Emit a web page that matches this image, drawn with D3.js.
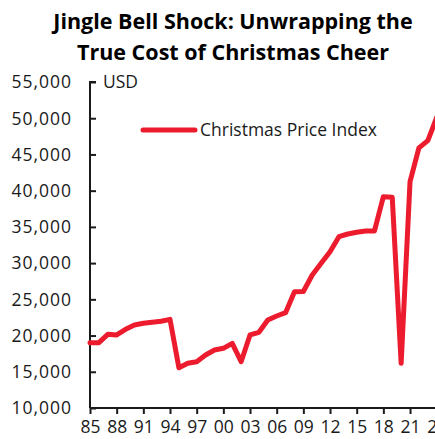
<!DOCTYPE html>
<html>
<head>
<meta charset="utf-8">
<script src="https://cdn.jsdelivr.net/npm/d3@7"></script>
<style>
  html, body { margin: 0; padding: 0; background: #fff; overflow: hidden; }
  svg { display: block; }
  text { font-family: "Open Sans", "Noto Sans", sans-serif; }
</style>
</head>
<body>
<div id="chart"></div>
<script>
// Christmas Price Index, USD, by year
const years = [1985, 1986, 1987, 1988, 1989, 1990, 1991, 1992, 1993, 1994,
               1995, 1996, 1997, 1998, 1999, 2000, 2001, 2002, 2003, 2004,
               2005, 2006, 2007, 2008, 2009, 2010, 2011, 2012, 2013, 2014,
               2015, 2016, 2017, 2018, 2019, 2020, 2021, 2022, 2023, 2024];
const priceIndex = [19020, 19020, 20170, 20080, 20860, 21460, 21690, 21830, 21980, 22240,
                    15550, 16170, 16390, 17320, 18010, 18240, 18930, 16390, 20080, 20450,
                    22150, 22700, 23160, 26050, 26080, 28360, 29970, 31580, 33650, 34020,
                    34250, 34430, 34440, 39170, 39090, 16170, 41240, 45900, 46900, 50100];
const yTicks = [10000, 15000, 20000, 25000, 30000, 35000, 40000, 45000, 50000, 55000];
const xTicks = [1985, 1988, 1991, 1994, 1997, 2000, 2003, 2006, 2009, 2012, 2015, 2018, 2021, 2024];
const titleLines = ["Jingle Bell Shock: Unwrapping the", "True Cost of Christmas Cheer"];
const seriesName = "Christmas Price Index";
const unitLabel = "USD";

const W = 435, H = 439;
const lineColor = "#ec1c2e";
const inkColor = "#1a1a1a";

const svg = d3.select("#chart").append("svg")
  .attr("width", W).attr("height", H);

const x = d3.scaleLinear().domain([1985, 2024]).range([90, 436.7]);
const y = d3.scaleLinear().domain([10000, 55000]).range([408, 82]);

// Title
svg.append("g").selectAll("text")
  .data(titleLines)
  .join("text")
  .attr("x", 233)
  .attr("y", (d, i) => 29 + i * 31)
  .attr("text-anchor", "middle")
  .attr("font-size", 21.5)
  .attr("font-weight", 700)
  .attr("fill", "#000")
  .text(d => d);

// Y axis with inward ticks
const yAxis = svg.append("g")
  .attr("transform", `translate(${x.range()[0]},0)`)
  .call(d3.axisRight(y).tickValues(yTicks).tickSize(6).tickFormat(""));
yAxis.select(".domain").attr("stroke", inkColor).attr("stroke-width", 2)
  .attr("d", `M6,${y(55000)}H0V${y(10000)}`);
yAxis.selectAll(".tick line").attr("stroke", inkColor).attr("stroke-width", 2);

svg.append("g").selectAll("text")
  .data(yTicks)
  .join("text")
  .attr("x", 72)
  .attr("y", d => y(d))
  .attr("dy", "0.36em")
  .attr("text-anchor", "end")
  .attr("font-size", 17.5)
  .attr("letter-spacing", 1)
  .attr("fill", inkColor)
  .text(d => d3.format(",")(d));

svg.append("text")
  .attr("x", 103)
  .attr("y", y(55000))
  .attr("dy", "0.36em")
  .attr("font-size", 17.5)
  .attr("fill", inkColor)
  .text(unitLabel);

// X axis
const xAxis = svg.append("g")
  .attr("transform", `translate(0,${y.range()[0]})`)
  .call(d3.axisBottom(x).tickValues(xTicks).tickSize(6)
    .tickFormat(d => d3.format("02d")(d % 100)));
xAxis.select(".domain").attr("stroke", inkColor).attr("stroke-width", 2)
  .attr("d", `M${x.range()[0]},0H${x.range()[1] + 5}`);
xAxis.selectAll(".tick line").attr("stroke", inkColor).attr("stroke-width", 2);
xAxis.selectAll(".tick text")
  .attr("font-family", "'Open Sans', 'Noto Sans', sans-serif")
  .attr("font-size", 17.5)
  .attr("fill", inkColor)
  .attr("y", 13);

// Series line
const line = d3.line()
  .x((d, i) => x(years[i]))
  .y(d => y(d));

svg.append("path")
  .datum(priceIndex)
  .attr("fill", "none")
  .attr("stroke", lineColor)
  .attr("stroke-width", 5)
  .attr("stroke-linejoin", "round")
  .attr("stroke-linecap", "round")
  .attr("d", line);

// Legend
const legend = svg.append("g");
legend.append("line")
  .attr("x1", 143).attr("x2", 195)
  .attr("y1", 130).attr("y2", 130)
  .attr("stroke", lineColor)
  .attr("stroke-width", 5)
  .attr("stroke-linecap", "round");
legend.append("text")
  .attr("x", 200)
  .attr("y", 130)
  .attr("dy", "0.36em")
  .attr("font-size", 17.5)
  .attr("fill", inkColor)
  .text(seriesName);
</script>
</body>
</html>
